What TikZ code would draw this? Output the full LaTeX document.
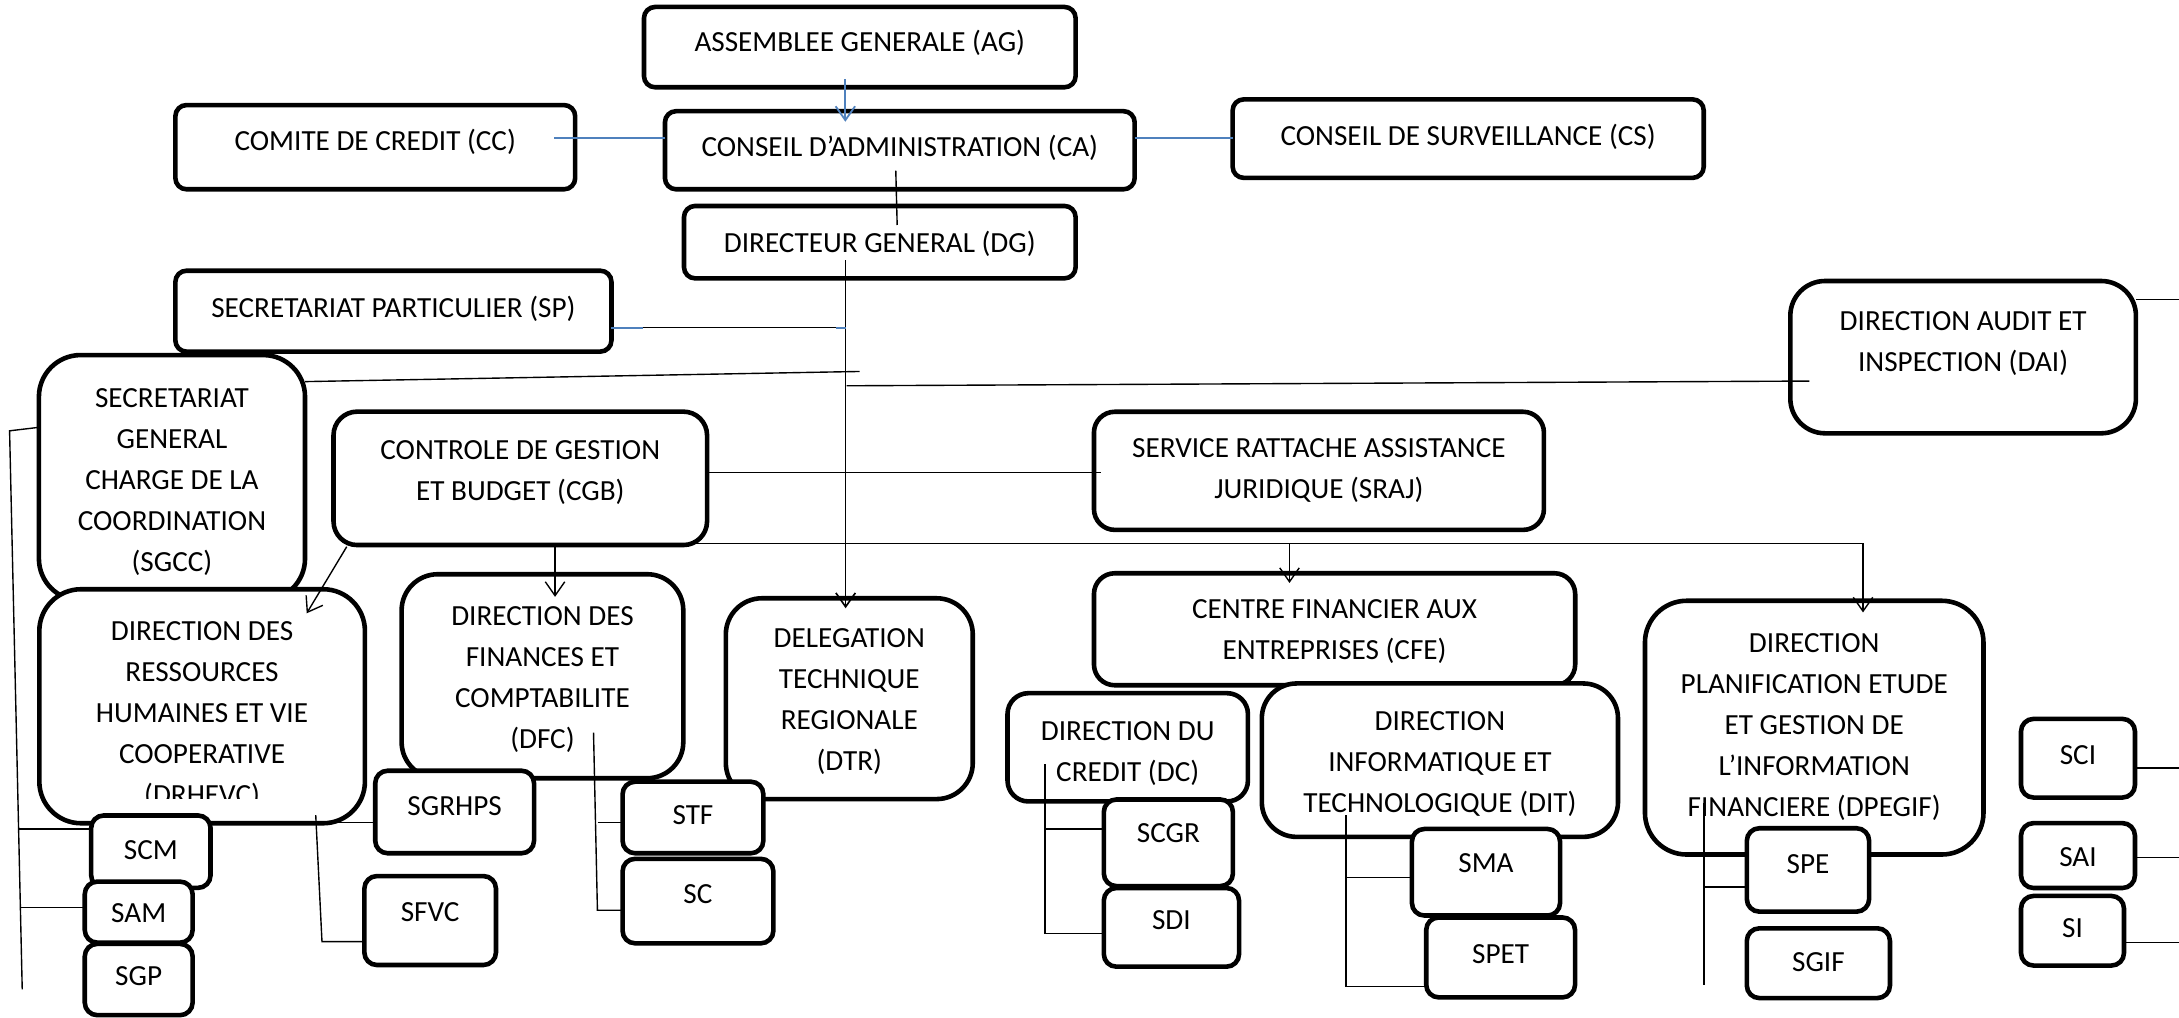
\documentclass[tikz,border=0pt]{standalone}
\usepackage{fontspec}
\setmainfont{Carlito}
\usetikzlibrary{arrows.meta,fit}
\definecolor{bluel}{HTML}{4F81BD}
\newcommand{\bx}[8]{%
  \node[box, rounded corners=#6, fit={(#2,#3) (#4,#5)}] (#1) {};
  \node[txt] (#1-t) at ({(#2+#4)/2}, #7-20.65) {\strut #8};
}
\begin{document}
\begin{tikzpicture}[x=1pt,y=-1pt,
  box/.style={draw, line width=3.3pt, fill=white, inner sep=0pt, outer sep=0pt},
  txt/.style={font=\fontsize{21}{29.5}\selectfont, align=center, inner sep=0pt, anchor=north},
  conn/.style={line width=1pt, black},
  bconn/.style={line width=1.3pt, bluel},
  arr/.style={-{Straight Barb[length=10pt,width=14pt]}}]
\fill[white] (0,0) rectangle (1568,732);
\useasboundingbox (0,0) rectangle (1568,732);
% top level
\bx{ag}{463.4}{5}{774}{62.8}{8}{37.2}{ASSEMBLEE GENERALE (AG)}
\bx{cc}{126.2}{75.6}{413.9}{136.2}{8}{108.4}{COMITE DE CREDIT (CC)}
\bx{ca}{478.5}{80}{816.5}{136.2}{8}{112.2}{CONSEIL D’ADMINISTRATION (CA)}
\bx{cs}{887}{71.5}{1226}{128}{8}{104.3}{CONSEIL DE SURVEILLANCE (CS)}
\bx{dg}{492.2}{148.2}{774}{200.3}{8}{181.6}{DIRECTEUR GENERAL (DG)}
\bx{sp}{126.2}{194.8}{440}{253}{8}{228.6}{SECRETARIAT PARTICULIER (SP)}
\bx{dai}{1288.3}{202.2}{1537}{311.8}{25}{237.5}{DIRECTION AUDIT ET\\INSPECTION (DAI)}
\bx{sgcc}{28}{255.5}{219.5}{432}{30}{293.3}{SECRETARIAT\\GENERAL\\CHARGE DE LA\\COORDINATION\\(SGCC)}
\bx{cgb}{240}{296.2}{508.8}{392.2}{17}{330.3}{CONTROLE DE GESTION\\ET BUDGET (CGB)}
\bx{sraj}{787.2}{296.3}{1111}{381.3}{15}{328.9}{SERVICE RATTACHE ASSISTANCE\\JURIDIQUE (SRAJ)}
% DRHEVC with clipped text
\node[box, rounded corners=30, fit={(28.3,424) (262.6,592.4)}] (drhevc) {};
\begin{scope}
  \clip (28.3,424) rectangle (262.6,574.5);
  \node[txt] (drhevc-t) at (145.4,460.5-20.65) {\strut DIRECTION DES\\RESSOURCES\\HUMAINES ET VIE\\COOPERATIVE\\(DRHEVC)};
\end{scope}
\bx{dfc}{289}{413.2}{491.7}{560}{26}{449.7}{DIRECTION DES\\FINANCES ET\\COMPTABILITE\\(DFC)}
\bx{dtr}{522.3}{430.5}{700}{575}{26}{466}{DELEGATION\\TECHNIQUE\\REGIONALE\\(DTR)}
\bx{cfe}{787.2}{412.5}{1133.5}{493.1}{15}{445}{CENTRE FINANCIER AUX\\ENTREPRISES (CFE)}
\bx{dc}{725}{498.8}{898}{576.7}{15}{532.8}{DIRECTION DU\\CREDIT (DC)}
\bx{dit}{908}{491.8}{1164.3}{602.2}{25}{525.7}{DIRECTION\\INFORMATIQUE ET\\TECHNOLOGIQUE (DIT)}
\bx{dpegif}{1183.7}{432.3}{1427.3}{614.9}{30}{469.1}{DIRECTION\\PLANIFICATION ETUDE\\ET GESTION DE\\L’INFORMATION\\FINANCIERE (DPEGIF)}
% small services
\bx{scm}{65.6}{586.8}{151.5}{638.9}{9}{618.4}{SCM}
\bx{sam}{61}{634.4}{138.6}{678.3}{9}{663.7}{SAM}
\bx{sgp}{61}{679.2}{138.6}{730.5}{9}{709}{SGP}
\bx{sgrhps}{270}{554.6}{384.3}{614}{9}{586.5}{SGRHPS}
\bx{sfvc}{262.2}{630.4}{356.9}{694.4}{9}{663.2}{SFVC}
\bx{stf}{448}{562.5}{549.3}{614}{9}{593}{STF}
\bx{sc}{448}{618}{556.5}{678.8}{9}{650}{SC}
\bx{scgr}{794.3}{575.3}{887.2}{637.6}{9}{606.4}{SCGR}
\bx{sdi}{794.3}{639}{891.6}{695.6}{9}{668.7}{SDI}
\bx{sma}{1016}{596.5}{1122.6}{658.8}{9}{627.7}{SMA}
\bx{spet}{1026.3}{660.2}{1133.4}{717.7}{9}{692.8}{SPET}
\bx{spe}{1257}{596}{1345}{656}{9}{628.4}{SPE}
\bx{sgif}{1257}{668}{1360}{718.2}{9}{699.2}{SGIF}
\bx{sci}{1454.3}{517.3}{1536.3}{573.9}{9}{549.8}{SCI}
\bx{sai}{1454.3}{592.3}{1536.3}{639}{9}{623.5}{SAI}
\bx{si}{1454.3}{644.7}{1528.4}{694.8}{9}{674.4}{SI}
% connectors
\draw[bconn, arr] (608.3,57.1) -- (608.3,87.6);
\draw[bconn] (398.8,99.5) -- (ca.west |- 0,99.5);
\draw[bconn] (ca.east |- 0,99.5) -- (cs.west |- 0,99.5);
\draw[conn] (644.6,122.8) -- (645.6,161.9);
\draw[conn, line width=1.2pt, arr] (608.5,187.1) -- (608.5,437.7);
\draw[bconn] (sp.east |- 0,235.8) -- (462.4,235.8);
\draw[conn] (462.4,235.8) -- (601.5,235.8);
\draw[bconn] (601.5,235.8) -- (608.5,235.8);
\draw[conn] (sgcc.east |- 0,274.6) -- (618.6,267.3);
\draw[conn] (609.3,277.6) -- (1302,274.2);
\draw[conn] (dai.east |- 0,215.4) -- (1568,215.4);
\draw[conn] (cgb.east |- 0,339.9) -- (792.6,339.9);
\draw[conn, arr] (498.9,391.1) -- (1340.6,391.1) -- (1340.6,440.7);
\draw[conn, arr] (927.9,391.1) -- (927.9,419.5);
\draw[conn, arr] (399.4,392.2) -- (399.4,429.5);
\draw[conn, arr] (249.5,393.4) -- (220.7,441.3);
% left bundle
\draw[conn] (sgcc.west |- 0,307.5) -- (6.9,310) -- (16,712);
\draw[conn] (13.4,596.6) -- (scm.west |- 0,596.6);
\draw[conn] (14.7,652.9) -- (sam.west |- 0,652.9);
% DRHEVC
\draw[conn] (227.2,586.5) -- (231.7,677.6) -- (sfvc.west |- 0,677.6);
\draw[conn] (227.5,592) -- (sgrhps.west |- 0,592);
% DFC
\draw[conn] (427.1,527.1) -- (429.9,655) -- (sc.west |- 0,655);
\draw[conn] (430,592) -- (stf.west |- 0,592);
% DC
\draw[conn] (752,549.8) -- (752,671.6) -- (sdi.west |- 0,671.6);
\draw[conn] (752,596.5) -- (scgr.west |- 0,596.5);
% DIT
\draw[conn] (968.5,586.6) -- (968.5,709.8) -- (spet.west |- 0,709.8);
\draw[conn] (968.5,631.4) -- (sma.west |- 0,631.4);
% DPEGIF
\draw[conn] (1226.3,578) -- (1226.3,708.8);
\draw[conn] (1226.3,638.2) -- (spe.west |- 0,638.2);
% right side
\draw[conn] (sci.east |- 0,552.6) -- (1568,552.6);
\draw[conn] (sai.east |- 0,617.2) -- (1568,617.2);
\draw[conn] (si.east |- 0,678.1) -- (1568,678.1);
\end{tikzpicture}
\end{document}
